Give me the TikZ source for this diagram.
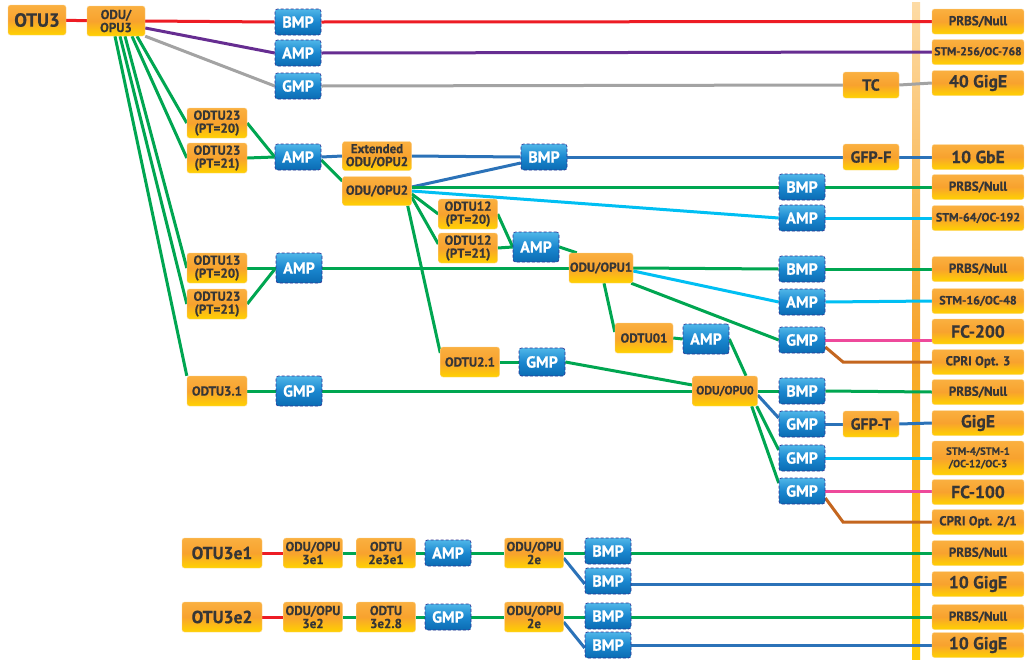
\documentclass[tikz,border=0pt]{standalone}
\usepackage{fontspec}
\setmainfont{PT Sans}[BoldFeatures={FakeBold=0.6}]
\usetikzlibrary{backgrounds,calc}
\definecolor{cgreen}{HTML}{00A651}
\definecolor{cred}{HTML}{ED1C24}
\definecolor{cpurple}{HTML}{662D91}
\definecolor{cgray}{HTML}{A3A3A3}
\definecolor{cblue}{HTML}{2B72B8}
\definecolor{ccyan}{HTML}{00BFF3}
\definecolor{cpink}{HTML}{EE4A9B}
\definecolor{cbrown}{HTML}{C4661F}
\definecolor{obtop}{HTML}{FAB040}
\definecolor{obmid}{HTML}{F8A22E}
\definecolor{obbot}{HTML}{FFD200}
\definecolor{obedge}{HTML}{FDD38A}
\definecolor{otext}{HTML}{363636}
\definecolor{bbtop}{HTML}{4FB6E8}
\definecolor{bbmid}{HTML}{1A87CF}
\definecolor{bbbot}{HTML}{0B6CB3}
\definecolor{bbedge}{HTML}{2E3192}
\definecolor{bandtop}{HTML}{FDDBA5}
\definecolor{bandmid}{HTML}{F7A52E}
\definecolor{bandbot}{HTML}{FFCC0A}
\newcommand\fsz[2]{\fontsize{#1}{#2}\selectfont}
\tikzset{
  ob/.style={rounded corners=2.5pt, top color=obtop, bottom color=obbot, middle color=obmid,
    draw=obedge, line width=0.4pt, text=otext, inner sep=0pt, align=center,
    minimum height=30pt, font=\bfseries\fsz{13}{13}},
  bb/.style={rounded corners=2.5pt, top color=bbtop, bottom color=bbbot, middle color=bbmid,
    draw=bbedge, densely dashed, line width=0.6pt, text=white, inner sep=0pt,
    minimum width=46pt, minimum height=26pt, font=\bfseries\fsz{16}{16}},
  rc/.style={ob, minimum width=92pt, minimum height=25pt},
  big/.style={font=\bfseries\fsz{17.5}{17.5}},
  mid/.style={font=\bfseries\fsz{13}{13}},
  sml/.style={font=\bfseries\fsz{12}{12}},
  ln/.style={line width=3pt},
}
\begin{document}
\begin{tikzpicture}[x=1pt,y=-1pt]
\useasboundingbox (0,0) rectangle (1025,659);
% left / top
\node[ob, minimum width=58pt, font=\bfseries\fsz{19}{19}] (otu3) at (37,20) {OTU3};
\node[ob, minimum width=58pt] (odu3) at (116,21) {ODU/\\OPU3};
\node[bb] (b1) at (298,22) {BMP};
\node[bb] (a1) at (298,53) {AMP};
\node[bb] (g1) at (298,86) {GMP};
\node[ob, minimum width=60pt] (t23a) at (217,123) {ODTU23\\(PT=20)};
\node[ob, minimum width=60pt] (t23b) at (217,158) {ODTU23\\(PT=21)};
\node[bb] (a2) at (298,157) {AMP};
\node[ob, minimum width=69pt, minimum height=29pt] (ext) at (377,156) {Extended\\ODU/OPU2};
\node[ob, minimum width=69pt, minimum height=29pt, mid] (odu2) at (377,191) {ODU/OPU2};
\node[bb] (bm) at (544,157) {BMP};
\node[ob, minimum width=56pt, minimum height=26pt, font=\bfseries\fsz{16}{16}] (tc) at (871,85) {TC};
\node[ob, minimum width=56pt, minimum height=26pt, font=\bfseries\fsz{16}{16}] (gfpf) at (871,157) {GFP-F};
\node[ob, minimum width=59pt] (t12a) at (468,214) {ODTU12\\(PT=20)};
\node[ob, minimum width=59pt] (t12b) at (468,248) {ODTU12\\(PT=21)};
\node[bb, minimum height=30pt] (a3) at (536,247) {AMP};
\node[ob, minimum width=64pt, mid] (odu1) at (601,268) {ODU/OPU1};
\node[ob, minimum width=60pt] (t13) at (217,268) {ODTU13\\(PT=20)};
\node[ob, minimum width=60pt] (t23c) at (217,304) {ODTU23\\(PT=21)};
\node[bb, minimum height=30pt] (a4) at (299,268) {AMP};
\node[ob, minimum width=58pt, mid] (t01) at (644,338) {ODTU01};
\node[bb, minimum height=30pt] (a5) at (706,339) {AMP};
\node[ob, minimum width=59pt, mid] (t21) at (470,362) {ODTU2.1};
\node[bb, minimum height=28pt] (g2) at (542,362) {GMP};
\node[ob, minimum width=60pt, mid] (t31) at (217,391) {ODTU3.1};
\node[bb, minimum height=30pt] (g3) at (299,391) {GMP};
\node[ob, minimum width=65pt, sml] (odu0) at (725,391) {ODU/OPU0};
% right blue column
\node[bb] (rb1) at (802,187) {BMP};
\node[bb] (ra1) at (802,218) {AMP};
\node[bb] (rb2) at (802,269) {BMP};
\node[bb] (ra2) at (802,302) {AMP};
\node[bb] (rg1) at (802,340) {GMP};
\node[bb] (rb3) at (802,391) {BMP};
\node[bb] (rg2) at (802,424) {GMP};
\node[bb] (rg3) at (802,458) {GMP};
\node[bb] (rg4) at (802,491) {GMP};
\node[ob, minimum width=56pt, minimum height=26pt, font=\bfseries\fsz{16}{16}] (gfpt) at (871,424) {GFP-T};
% right column
\node[rc, mid] (r1) at (978,21.5) {PRBS/Null};
\node[rc, font=\bfseries\fsz{11.5}{11.5}] (r2) at (978,52) {STM-256/OC-768};
\node[rc, big] (r3) at (978,83) {40 GigE};
\node[rc, big] (r4) at (978,157) {10 GbE};
\node[rc, mid] (r5) at (978,187) {PRBS/Null};
\node[rc, font=\bfseries\fsz{12}{12}] (r6) at (978,218) {STM-64/OC-192};
\node[rc, mid] (r7) at (978,269) {PRBS/Null};
\node[rc, font=\bfseries\fsz{12}{12}] (r8) at (978,301) {STM-16/OC-48};
\node[rc, big] (r9) at (978,331.5) {FC-200};
\node[rc, mid] (r10) at (978,362) {CPRI Opt. 3};
\node[rc, mid] (r11) at (978,392) {PRBS/Null};
\node[rc, big] (r12) at (978,423) {GigE};
\node[rc, minimum height=34pt, font=\bfseries\fsz{10.5}{12.5}] (r13) at (978,458) {STM-4/STM-1\\/OC-12/OC-3};
\node[rc, big] (r14) at (978,492) {FC-100};
\node[rc, mid] (r15) at (978,522) {CPRI Opt. 2/1};
\node[rc, mid] (r16) at (978,553) {PRBS/Null};
\node[rc, big] (r17) at (978,584) {10 GigE};
\node[rc, mid] (r18) at (978,617) {PRBS/Null};
\node[rc, big] (r19) at (978,645) {10 GigE};
% bottom rows
\node[ob, minimum width=80pt, big] (e1) at (222,553) {OTU3e1};
\node[ob, minimum width=59pt] (e1o) at (313,553) {ODU/OPU\\3e1};
\node[ob, minimum width=59pt] (e1t) at (386,553) {ODTU\\2e3e1};
\node[bb] (e1a) at (448,553) {AMP};
\node[ob, minimum width=59pt] (e1p) at (534,553) {ODU/OPU\\2e};
\node[bb] (e1b) at (608,551) {BMP};
\node[bb] (e1c) at (608,581) {BMP};
\node[ob, minimum width=80pt, big] (e2) at (222,617) {OTU3e2};
\node[ob, minimum width=59pt] (e2o) at (313,617) {ODU/OPU\\3e2};
\node[ob, minimum width=59pt] (e2t) at (386,617) {ODTU\\3e2.8};
\node[bb] (e2a) at (448,617) {GMP};
\node[ob, minimum width=59pt] (e2p) at (534,617) {ODU/OPU\\2e};
\node[bb] (e2b) at (608,616) {BMP};
\node[bb] (e2c) at (608,645) {BMP};
\coordinate (k1) at (843,362);
\coordinate (k2) at (843,522);
\begin{pgfonlayer}{background}
\fill[white] (0,0) rectangle (1025,659);
\shade[top color=bandtop, bottom color=bandbot, middle color=bandmid] (912,2) rectangle (920,659);
% top rows
\draw[ln, cred] (otu3) -- (odu3);
\draw[ln, cred] (odu3.east) -- (b1.west);
\draw[ln, cred] (b1.east) -- (r1.west);
\draw[ln, cpurple] ([yshift=-7pt]odu3.east) -- (a1.west);
\draw[ln, cpurple] (a1.east) -- (r2.west);
\draw[ln, cgray] (odu3.south east) -- (g1.west);
\draw[ln, cgray] (g1.east) -- (tc.west);
\draw[ln, cgray] (tc.east) -- (r3.west);
% fan
\draw[ln, cgreen] ([xshift=-1pt]odu3.south) -- (t31.north west);
\draw[ln, cgreen] ([xshift=4pt]odu3.south) -- (t23c.west);
\draw[ln, cgreen] ([xshift=9pt]odu3.south) -- (t13.west);
\draw[ln, cgreen] ([xshift=16pt]odu3.south) -- (t23b.west);
\draw[ln, cgreen] ([xshift=21pt]odu3.south) -- (t23a.west);
% ODU2 area
\draw[ln, cgreen] (t23a.east) -- (a2.west);
\draw[ln, cgreen] (t23b.east) -- (a2.west);
\draw[ln, cblue] (a2.east) -- (ext.west);
\draw[ln, cblue] (ext.east) -- (bm.west);
\draw[ln, cblue] (bm.east) -- (gfpf.west);
\draw[ln, cblue] (gfpf.east) -- (r4.west);
\draw[ln, cgreen] ([yshift=-3pt]a2.east) -- ([yshift=10pt]odu2.west);
\draw[ln, cblue] ([yshift=4pt]odu2.east) -- ([yshift=-6pt]bm.west);
\draw[ln, cgreen] ([yshift=4pt]odu2.east) -- (rb1.west);
\draw[ln, cgreen] (rb1.east) -- (r5.west);
\draw[ln, ccyan] (odu2.east) -- (ra1.west);
\draw[ln, ccyan] (ra1.east) -- (r6.west);
\draw[ln, cgreen] ([yshift=-3pt]odu2.east) -- (t12a.west);
\draw[ln, cgreen] ([yshift=-6pt]odu2.east) -- ([yshift=4pt]t12b.west);
\draw[ln, cgreen] ([xshift=-4pt]odu2.south east) -- ([yshift=9pt]t21.west);
% ODU1 area
\draw[ln, cgreen] (t12a.east) -- (a3.west);
\draw[ln, cgreen] (t12b.east) -- (a3.west);
\draw[ln, cgreen] (a3.east) -- ([xshift=8pt]odu1.north west);
\draw[ln, cgreen] (t13.east) -- (a4.west);
\draw[ln, cgreen] (t23c.east) -- (a4.west);
\draw[ln, cgreen] (a4.east) -- (odu1.west);
\draw[ln, cgreen] (odu1.east) -- (rb2.west);
\draw[ln, cgreen] (rb2.east) -- (r7.west);
\draw[ln, ccyan] ([yshift=-3pt]odu1.east) -- (ra2.west);
\draw[ln, ccyan] (ra2.east) -- (r8.west);
\draw[ln, cgreen] ([xshift=-2pt]odu1.south east) -- (rg1.west);
\draw[ln, cpink] (rg1.east) -- (rg1.east -| r9.west);
\draw[ln, cbrown] ([yshift=-7pt]rg1.east) -- (k1) -- (r10.west);
\draw[ln, cgreen] ([xshift=3pt]odu1.south) -- ([yshift=6pt]t01.west);
\draw[ln, cgreen] (t01.east) -- (a5.west);
\draw[ln, cgreen] (a5.east) -- ([xshift=21pt]odu0.north);
% ODU0 area
\draw[ln, cgreen] (t21.east) -- (g2.west);
\draw[ln, cgreen] (g2.east) -- ([yshift=6pt]odu0.west);
\draw[ln, cgreen] (t31.east) -- (g3.west);
\draw[ln, cgreen] (g3.east) -- (odu0.west);
\draw[ln, cgreen] (odu0.east) -- (rb3.west);
\draw[ln, cgreen] (rb3.east) -- (r11.west);
\draw[ln, cblue] ([yshift=-4pt]odu0.east) -- ([yshift=6pt]rg2.west);
\draw[ln, cblue] (rg2.east) -- (gfpt.west);
\draw[ln, cblue] (gfpt.east) -- (r12.west);
\draw[ln, cgreen] ([xshift=-1pt]odu0.south east) -- ([yshift=8pt]rg3.west);
\draw[ln, ccyan] (rg3.east) -- (r13.west);
\draw[ln, cgreen] ([xshift=-6pt]odu0.south east) -- ([yshift=8pt]rg4.west);
\draw[ln, cpink] (rg4.east) -- (rg4.east -| r14.west);
\draw[ln, cbrown] ([yshift=-7pt]rg4.east) -- (k2) -- (r15.west);
% bottom rows
\draw[ln, cred] (e1) -- (e1o);
\draw[ln, cgreen] (e1o) -- (e1t) -- (e1a) -- (e1p);
\draw[ln, cgreen] (e1p.east) -- (e1p.east -| e1b.west);
\draw[ln, cgreen] (e1p.east -| e1b.east) -- (e1p.east -| r16.west);
\draw[ln, cblue] ([yshift=-5pt]e1p.east) -- ([yshift=-3pt]e1c.west);
\draw[ln, cblue] ([yshift=-3pt]e1c.east) -- ([yshift=-3pt]e1c.east -| r17.west);
\draw[ln, cred] (e2) -- (e2o);
\draw[ln, cgreen] (e2o) -- (e2t) -- (e2a) -- (e2p);
\draw[ln, cgreen] (e2p.east) -- (e2p.east -| e2b.west);
\draw[ln, cgreen] (e2p.east -| e2b.east) -- (e2p.east -| r18.west);
\draw[ln, cblue] ([yshift=-5pt]e2p.east) -- ([yshift=-3pt]e2c.west);
\draw[ln, cblue] (e2c.east) -- (r19.west);
\end{pgfonlayer}
\end{tikzpicture}
\end{document}
